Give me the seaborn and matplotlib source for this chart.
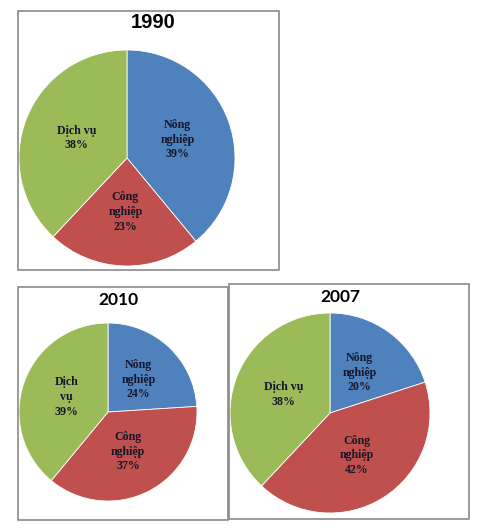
import matplotlib
matplotlib.use("Agg")
import matplotlib.pyplot as plt
from matplotlib.patches import Rectangle
import seaborn as sns

# Data
categories = ["Nông nghiệp", "Công nghiệp", "Dịch vụ"]
years = ["1990", "2010", "2007"]
shares_1990 = [39, 23, 38]
shares_2010 = [24, 37, 39]
shares_2007 = [20, 42, 38]
# how each label is wrapped inside its slice
wrapped_1990 = ["Nông\nnghiệp", "Công\nnghiệp", "Dịch vụ"]
wrapped_2010 = ["Nông\nnghiệp", "Công\nnghiệp", "Dịch\nvụ"]
wrapped_2007 = ["Nông\nnghiệp", "Công\nnghiệp", "Dịch vụ"]

sns.set_theme(style="white")
colors = sns.color_palette(["#4F81BD", "#C0504D", "#9BBB59"])

W, H = 489, 529
fig = plt.figure(figsize=(W / 100, H / 100), dpi=100)
fig.patch.set_facecolor("white")


def px_rect(x0, y0, x1, y1):
    # pixel box (top-left origin) -> figure fraction [l, b, w, h]
    return [x0 / W, 1 - y1 / H, (x1 - x0) / W, (y1 - y0) / H]


def draw_box(x0, y0, x1, y1):
    l, b, w, h = px_rect(x0, y0, x1, y1)
    fig.patches.append(Rectangle((l, b), w, h, transform=fig.transFigure,
                                 fill=False, edgecolor="#8a8a8a", linewidth=1.2))


def draw_pie(shares, wrapped, cx, cy, r):
    ax = fig.add_axes(px_rect(cx - r, cy - r, cx + r, cy + r))
    labels = [f"{name}\n{v}%" for name, v in zip(wrapped, shares)]
    wedges, texts = ax.pie(shares, labels=labels, colors=colors, startangle=90,
                           counterclock=False, labeldistance=0.5,
                           wedgeprops=dict(edgecolor="white", linewidth=0.6),
                           textprops=dict(family="Liberation Serif", fontweight="bold",
                                          fontsize=8.6, color="#15152a",
                                          ha="center", va="center", linespacing=1.3))
    ax.set_xlim(-1, 1)
    ax.set_ylim(-1, 1)
    ax.set_aspect("equal")
    ax.axis("off")
    return ax


# boxes
draw_box(18, 11, 279, 270)
draw_box(18, 287, 228, 520)
draw_box(229, 284, 469, 519)

draw_pie(shares_1990, wrapped_1990, 127, 158, 108)
draw_pie(shares_2010, wrapped_2010, 108, 412, 89)
draw_pie(shares_2007, wrapped_2007, 330, 413, 100)

# titles
fig.text(153 / W, 1 - 23 / H, years[0], ha="center", va="center",
         family="Liberation Sans", fontweight="bold", fontsize=14.5, color="black")
fig.text(118 / W, 1 - 300 / H, years[1], ha="center", va="center",
         family="Lato", fontweight="bold", fontsize=12.5, color="black")
fig.text(340 / W, 1 - 297 / H, years[2], ha="center", va="center",
         family="Lato", fontweight="bold", fontsize=12.5, color="black")

fig.savefig("out.png", dpi=100, facecolor="white")
